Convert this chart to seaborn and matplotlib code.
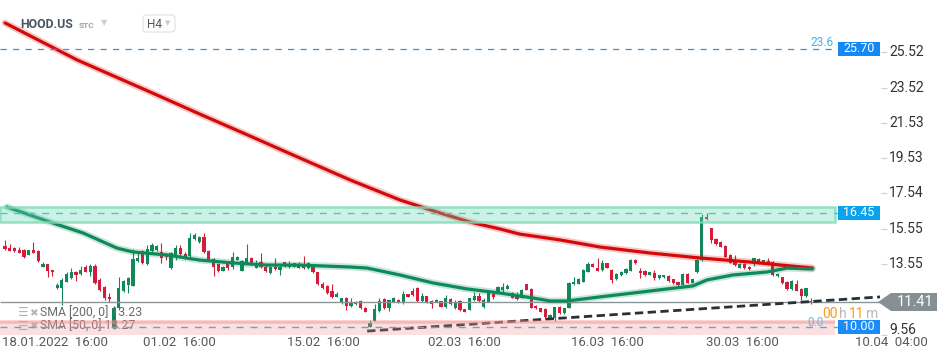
import numpy as np
import matplotlib
matplotlib.use("Agg")
import matplotlib.pyplot as plt
import seaborn as sns
from matplotlib.patches import Rectangle, Polygon, FancyBboxPatch
from matplotlib.transforms import Affine2D, IdentityTransform, blended_transform_factory

sns.set_theme(style="white")
plt.rcParams['font.family'] = ['Roboto', 'DejaVu Sans']

# ---------------- data (H4 candles, HOOD.US) ----------------
opens = [14.57, 14.47, 14.43, 14.34, 14.32, 14.06, 14.36, 14.28, 13.40, 13.53,
         13.21, 12.17, 12.21, 12.55, 12.74, 13.12, 12.97, 13.40, 13.12, 13.45,
         12.65, 12.27, 11.70, 9.93, 11.06, 12.03, 12.36, 12.33, 13.72, 14.28,
         13.55, 14.28, 14.34, 14.25, 14.10, 13.30, 14.06, 14.47, 14.10, 14.02,
         14.96, 14.77, 15.09, 14.28, 13.83, 13.53, 13.17, 13.53, 13.40, 13.79,
         13.17, 13.63, 13.91, 13.34, 13.64, 13.40, 13.02, 13.38, 13.21, 13.66,
         13.36, 13.40, 13.53, 13.44, 13.30, 13.38, 13.08, 12.40, 12.30, 12.02,
         11.70, 11.40, 11.61, 11.20, 11.27, 11.46, 11.08, 9.99, 10.35, 10.89,
         11.57, 11.08, 11.42, 11.52, 11.38, 11.84, 12.02, 12.21, 11.46, 11.72,
         11.46, 11.42, 11.46, 11.12, 11.57, 11.04, 11.46, 11.01, 10.95, 11.52,
         11.76, 11.14, 11.42, 11.84, 11.95, 12.08, 12.14, 11.93, 11.76, 11.65,
         12.40, 12.14, 11.18, 11.04, 11.01, 10.52, 10.48, 11.12, 10.76, 11.08,
         12.40, 12.44, 12.55, 13.12, 13.55, 13.34, 13.21, 13.59, 13.21, 12.68,
         12.91, 13.02, 13.17, 13.78, 13.17, 13.17, 12.95, 13.06, 12.74, 12.80,
         12.87, 12.68, 12.53, 12.34, 12.99, 12.50, 13.12, 13.78, 16.22, 15.57,
         14.94, 14.81, 14.57, 14.06, 13.78, 13.34, 13.55, 13.40, 13.59, 13.81,
         13.63, 13.72, 13.68, 12.87, 12.80, 12.53, 12.12, 12.42, 12.16, 11.74,
         11.47]
highs = [14.91, 14.68, 14.53, 14.53, 14.40, 14.36, 14.81, 14.32, 13.64, 13.53,
         13.21, 12.46, 12.74, 13.12, 13.34, 13.15, 13.45, 13.49, 13.53, 13.53,
         12.74, 12.30, 11.89, 11.15, 12.82, 12.65, 12.84, 14.40, 14.15, 14.34,
         14.62, 14.72, 14.62, 14.72, 14.15, 14.25, 14.62, 14.62, 14.25, 15.28,
         15.28, 15.15, 15.28, 14.32, 13.87, 13.59, 13.42, 13.59, 14.25, 14.00,
         13.78, 14.68, 13.95, 13.78, 14.15, 13.49, 13.45, 13.87, 13.49, 13.68,
         13.72, 13.62, 13.68, 14.02, 13.64, 13.40, 13.12, 12.51, 12.36, 12.40,
         11.99, 11.65, 11.67, 11.65, 11.46, 11.52, 11.10, 10.39, 11.27, 11.61,
         11.61, 11.53, 11.68, 11.57, 12.02, 11.87, 12.17, 12.25, 11.89, 11.74,
         11.52, 11.55, 11.48, 11.80, 11.61, 11.52, 11.52, 11.03, 11.65, 11.95,
         11.89, 11.61, 11.95, 11.89, 12.33, 12.46, 12.40, 11.99, 11.95, 12.12,
         12.42, 12.17, 11.23, 11.06, 11.04, 10.71, 11.14, 11.16, 11.08, 12.51,
         12.80, 12.74, 13.27, 13.64, 13.59, 13.87, 13.78, 13.62, 13.25, 13.02,
         13.17, 13.31, 13.81, 13.81, 13.30, 13.21, 13.10, 13.21, 12.93, 12.95,
         12.93, 12.72, 12.55, 13.02, 13.02, 12.72, 13.81, 16.38, 16.41, 15.60,
         15.00, 14.87, 14.62, 14.10, 14.06, 13.59, 13.63, 13.42, 13.91, 13.87,
         13.78, 13.87, 13.72, 13.02, 12.83, 12.57, 12.65, 12.65, 12.19, 12.21,
         11.61]
lows = [14.34, 14.28, 14.25, 14.15, 13.91, 14.04, 14.15, 13.68, 13.36, 12.80,
        12.89, 12.14, 11.23, 12.51, 12.70, 12.59, 12.93, 13.08, 12.89, 12.42,
        12.04, 11.52, 11.42, 9.85, 10.95, 11.99, 11.89, 12.33, 13.68, 13.55,
        13.49, 14.25, 14.30, 13.59, 13.78, 13.27, 13.78, 14.02, 13.83, 13.96,
        14.91, 14.72, 14.15, 13.74, 12.89, 13.12, 13.15, 13.21, 13.25, 13.76,
        13.15, 13.59, 13.49, 13.30, 13.34, 13.12, 12.98, 13.21, 12.93, 13.38,
        13.30, 13.36, 13.30, 13.27, 13.27, 13.04, 12.36, 12.12, 11.87, 11.65,
        11.68, 11.31, 10.95, 11.12, 11.23, 11.01, 10.84, 9.97, 10.31, 10.86,
        11.01, 10.89, 11.40, 11.33, 11.31, 11.67, 11.76, 11.42, 11.42, 11.36,
        11.08, 11.40, 11.12, 11.08, 11.23, 11.01, 10.91, 10.84, 10.93, 11.46,
        11.42, 11.04, 11.38, 11.57, 11.91, 11.99, 12.12, 11.61, 11.53, 11.61,
        12.06, 11.04, 11.01, 10.84, 10.44, 10.48, 10.33, 10.71, 10.74, 11.04,
        12.36, 12.40, 12.51, 13.08, 13.36, 13.15, 13.17, 13.32, 12.50, 12.65,
        12.87, 12.99, 13.14, 13.55, 12.74, 12.87, 12.93, 12.65, 12.70, 12.78,
        12.55, 12.42, 12.32, 12.31, 12.46, 12.46, 13.06, 13.74, 16.04, 14.76,
        14.62, 14.49, 13.93, 13.59, 13.46, 13.31, 13.25, 13.23, 13.44, 13.53,
        13.61, 13.49, 12.87, 12.83, 12.42, 12.08, 12.08, 12.01, 11.52, 11.70,
        11.29]
closes = [14.38, 14.30, 14.27, 14.19, 13.93, 14.34, 14.19, 13.72, 13.55, 13.15,
          13.08, 12.36, 12.65, 12.97, 13.08, 12.93, 13.21, 13.12, 13.45, 12.46,
          12.08, 11.61, 11.57, 11.06, 12.19, 12.59, 12.78, 13.83, 13.91, 13.59,
          14.40, 14.62, 14.58, 13.87, 13.96, 14.15, 14.47, 14.10, 13.91, 15.00,
          15.19, 15.09, 14.21, 13.78, 13.40, 13.17, 13.38, 13.30, 13.95, 13.96,
          13.72, 13.87, 13.55, 13.62, 13.40, 13.17, 13.40, 13.25, 13.40, 13.42,
          13.47, 13.59, 13.34, 13.30, 13.61, 13.08, 12.40, 12.21, 11.93, 11.70,
          11.85, 11.63, 11.20, 11.38, 11.36, 11.04, 10.86, 10.22, 11.01, 11.46,
          11.04, 11.50, 11.65, 11.38, 11.84, 11.70, 11.80, 11.46, 11.76, 11.38,
          11.27, 11.52, 11.14, 11.65, 11.27, 11.42, 10.95, 10.86, 11.61, 11.76,
          11.46, 11.50, 11.89, 11.70, 12.27, 12.27, 12.33, 11.65, 11.57, 12.08,
          12.08, 11.08, 11.04, 10.86, 10.57, 10.67, 11.10, 10.76, 11.04, 12.46,
          12.55, 12.70, 13.21, 13.55, 13.40, 13.17, 13.59, 13.34, 12.65, 12.99,
          13.12, 13.29, 13.78, 13.59, 13.02, 12.93, 13.08, 12.74, 12.91, 12.93,
          12.61, 12.46, 12.34, 12.99, 12.50, 12.68, 13.78, 16.19, 16.07, 14.91,
          14.68, 14.53, 13.96, 13.63, 13.49, 13.53, 13.31, 13.25, 13.87, 13.55,
          13.76, 13.55, 12.93, 12.99, 12.46, 12.12, 12.59, 12.04, 11.74, 12.18,
          11.40]

# moving averages (candle index, value)
sma200_idx = [0, 15.2, 30.6, 41.1, 51.7, 62.2, 72.8, 83.3, 91.8, 98.1, 104.4,
              108.6, 117.1, 125.5, 136.1, 146.6, 157.2, 170.3]
sma200_val = [27.17, 25.08, 23.27, 22.02, 20.78, 19.54, 18.30, 17.17, 16.43,
              15.92, 15.53, 15.24, 14.91, 14.51, 14.17, 13.89, 13.66, 13.32]
sma50_idx = [0.4, 9.5, 16.5, 23.6, 27.0, 34.2, 41.1, 48.1, 55.3, 62.2, 72.8,
             76.4, 83.3, 90.3, 97.5, 104.4, 111.4, 115.0, 118.6, 121.9, 125.5,
             132.5, 139.7, 145.1, 148.1, 153.6, 160.8, 165.0, 170.3]
sma50_val = [16.77, 15.92, 15.30, 14.45, 14.23, 14.06, 13.77, 13.61, 13.49,
             13.49, 13.38, 13.32, 12.93, 12.48, 12.14, 11.91, 11.63, 11.46,
             11.46, 11.57, 11.69, 11.91, 12.14, 12.31, 12.65, 12.93, 13.10,
             13.32, 13.27]

trend_idx = [76.4, 184.6]
trend_val = [9.76, 11.69]

last_price = 11.41
level_top = 25.70
level_top_note = "23.6"
resist_zone = (15.92, 16.77)
resist_level = 16.45
support_zone = (9.53, 10.33)
support_level = 10.00

yticks = [25.52, 23.52, 21.53, 19.53, 17.54, 15.55, 13.55, 9.56]
xtick_idx = [10.5, 36.9, 67.1, 97.0, 127.0, 155.5, 187.1]
xtick_labels = ["18.01.2022  16:00", "01.02  16:00", "15.02  16:00",
                "02.03  16:00", "16.03  16:00", "30.03  16:00", "10.04  04:00"]
sma_legend = ["SMA [200, 0] 13.23", "SMA [50, 0] 13.27"]

# ---------------- figure ----------------
W, H = 950, 360
fig = plt.figure(figsize=(W / 100, H / 100), dpi=100)
ax = fig.add_axes([0, 0, 1, 1])
ax.axis('off')

def X(px):
    return (px - 5) / 4.74

def Y(py):
    return 28.465 - py / 17.7

ax.set_xlim(X(0), X(W))
ax.set_ylim(Y(H), Y(0))

PX = Affine2D().scale(1, -1).translate(0, H)          # pixel coords (top-left origin)
XPX_YDATA = blended_transform_factory(IdentityTransform(), ax.transData)
XDATA_YPX = blended_transform_factory(ax.transData, PX)

o = np.array(opens); h = np.array(highs); l = np.array(lows); c = np.array(closes)
idx = np.arange(len(o))
GREEN = '#11875a'
RED = '#d31d3a'
cols = np.where(c >= o, GREEN, RED)

ax.vlines(idx, l, h, colors=cols, lw=0.8, zorder=2)
ax.bar(idx, np.maximum(np.abs(c - o), 0.05), bottom=np.minimum(o, c),
       width=0.68, color=cols, linewidth=0, zorder=3)

# moving averages
sns.lineplot(x=sma200_idx, y=sma200_val, ax=ax, color='#d40a0a', lw=5, alpha=0.22, zorder=4)
sns.lineplot(x=sma200_idx, y=sma200_val, ax=ax, color='#d40a0a', lw=2.3, zorder=5)
sns.lineplot(x=sma50_idx, y=sma50_val, ax=ax, color='#0c8a5a', lw=5, alpha=0.22, zorder=4)
sns.lineplot(x=sma50_idx, y=sma50_val, ax=ax, color='#0c8a5a', lw=2.3, zorder=5)
ax.axis('off')

# trend line
ax.plot(trend_idx, trend_val, color='#2b3034', lw=2, dashes=(3, 1.6), zorder=5)

# last price line
ax.hlines(last_price, X(0), X(880), colors='#8b9499', lw=1, zorder=4)

# legend texts (under the support zone)
for k, t in enumerate(sma_legend):
    yy = 313 + 13 * k
    ax.text(18, yy, "☰", transform=PX, fontsize=8.5, color='#b4b4b4', va='center', zorder=5)
    ax.text(29, yy, "✖", transform=PX, fontsize=7.5, color='#b4b4b4', va='center', zorder=5)
    ax.text(40, yy, t, transform=PX, fontsize=8.8, color='#6a6a6a', va='center', zorder=5)

# zones
xm = 835 / W
ax.axhspan(*resist_zone, xmin=0, xmax=xm, facecolor=(0.40, 0.85, 0.68, 0.33),
           edgecolor=(0.50, 0.86, 0.72, 0.8), lw=1.8, zorder=6)
ax.axhspan(*support_zone, xmin=0, xmax=xm, facecolor=(0.97, 0.55, 0.55, 0.28),
           edgecolor='none', zorder=6)
ax.hlines(support_zone[1] - 0.07, X(0), X(835), colors=[(0.96, 0.55, 0.55, 0.45)], lw=2.6, zorder=6)

# level dashed lines
ax.hlines(resist_level, X(0), X(838), colors='#4cc0ec', lw=1, linestyles=(0, (5, 5)), zorder=7)
ax.hlines(support_level, X(0), X(838), colors='#5aa6e4', lw=1, linestyles=(0, (5, 5)), zorder=7)
ax.hlines(level_top, X(0), X(838), colors='#3a94d6', lw=0.9, linestyles=(0, (5, 5)), zorder=7)
ax.text(822, 42, level_top_note, transform=PX, fontsize=8.5, color='#3fb0ee',
        ha='center', va='center', zorder=8)

# price boxes
def price_box(val, color):
    ax.add_patch(Rectangle((838, val - 0.40), 42, 0.80, transform=XPX_YDATA,
                           facecolor=color, edgecolor='none', zorder=9, clip_on=False))
    ax.text(859, val, f"{val:.2f}", transform=XPX_YDATA, color='white', fontsize=9,
            ha='center', va='center', zorder=10)

price_box(level_top, '#1589f3')
price_box(resist_level, '#0aa2eb')
price_box(support_level, '#1a8cfa')

# countdown
ax.text(816, 322, "0.0", transform=PX, fontsize=8.5, color='#58bff0', ha='center', va='center', zorder=8)
ax.text(822, 314, "00", transform=PX, fontsize=10, color='#ff9a12', va='center', zorder=9)
ax.text(838.5, 314, "h", transform=PX, fontsize=10, color='#b8b8b8', va='center', zorder=9)
ax.text(849, 314, "11", transform=PX, fontsize=10, color='#ff9a12', va='center', zorder=9)
ax.text(866, 314, "m", transform=PX, fontsize=10, color='#b8b8b8', va='center', zorder=9)

# last price tag
ax.add_patch(Polygon([(878, 302), (891, 293), (937, 293), (937, 311), (891, 311)],
                     closed=True, transform=PX, facecolor='#868f94', edgecolor='none', zorder=9))
ax.text(915, 302, f"{last_price:.2f}", transform=PX, color='white', fontsize=10.5,
        ha='center', va='center', zorder=10)

# y axis labels
for v in yticks:
    yv = v if v > 10 else v + 0.28
    ax.hlines(v, 881, 887, transform=XPX_YDATA, colors='#d0d0d0', lw=0.8)
    ax.text(889, yv, f"{v:.2f}", transform=XPX_YDATA, fontsize=10, color='#333333',
            ha='left', va='center')

# x axis labels
for xi, lab in zip(xtick_idx, xtick_labels):
    ax.text(xi, 343, lab, transform=XDATA_YPX, fontsize=9.5, color='#555b60',
            ha='center', va='center')

# header
ax.text(20, 24, "HOOD.US", transform=PX, fontsize=8.8, fontweight='bold', color='#4a5560', va='center')
ax.text(79, 25, "STC", transform=PX, fontsize=6, fontweight='bold', color='#95a5b2', va='center')
ax.text(101, 23, "▼", transform=PX, fontsize=6, color='#c9d0d6', va='center')
ax.add_patch(FancyBboxPatch((143, 15), 32, 17, boxstyle="round,pad=0,rounding_size=3",
                            transform=PX, facecolor='white', edgecolor='#dde2e6', lw=0.8, zorder=9))
ax.text(147, 24, "H4", transform=PX, fontsize=8.5, color='#555555', va='center', zorder=10)
ax.text(165, 24, "▼", transform=PX, fontsize=5, color='#c4cbd0', va='center', zorder=10)

fig.savefig("out.png", dpi=100)
